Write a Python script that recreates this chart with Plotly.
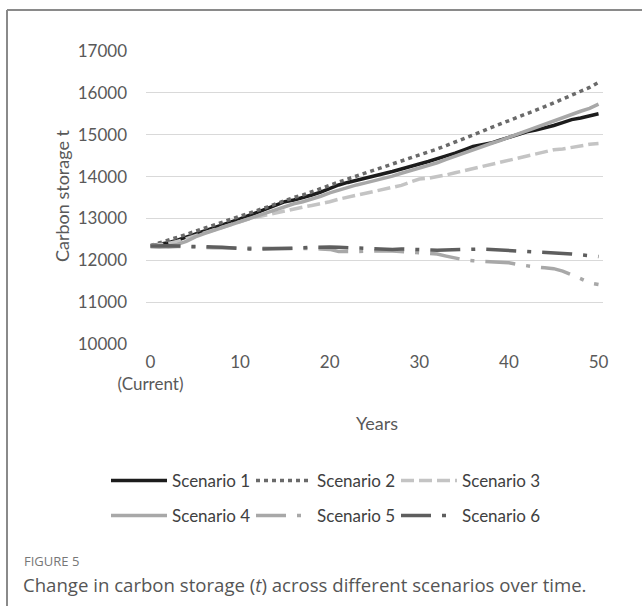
import plotly.graph_objects as go

years = list(range(0, 51))
tick_vals = [0, 10, 20, 30, 40, 50]
tick_text = ["0<br>(Current)", "10", "20", "30", "40", "50"]

s1 = [12350, 12380, 12420, 12480, 12550, 12620, 12690, 12760, 12830, 12910,
      12990, 13070, 13150, 13240, 13330, 13400, 13440, 13490, 13560, 13630,
      13720, 13800, 13860, 13910, 13950, 14000, 14060, 14120, 14180, 14230,
      14300, 14360, 14420, 14490, 14560, 14640, 14720, 14760, 14800, 14870,
      14940, 15010, 15070, 15110, 15160, 15220, 15290, 15360, 15400, 15440, 15500]
s2 = [12350, 12410, 12480, 12550, 12620, 12690, 12760, 12830, 12900, 12970,
      13050, 13120, 13190, 13270, 13350, 13430, 13500, 13560, 13630, 13710,
      13790, 13870, 13940, 14010, 14080, 14150, 14220, 14290, 14360, 14430,
      14500, 14580, 14660, 14740, 14820, 14900, 14990, 15080, 15170, 15250,
      15330, 15420, 15510, 15590, 15670, 15760, 15850, 15940, 16030, 16130, 16250]
s3 = [12350, 12370, 12400, 12450, 12520, 12590, 12660, 12730, 12800, 12870,
      12930, 12990, 13040, 13090, 13140, 13190, 13230, 13270, 13310, 13350,
      13400, 13460, 13510, 13560, 13610, 13660, 13700, 13740, 13790, 13870,
      13940, 13960, 13990, 14040, 14090, 14140, 14190, 14240, 14290, 14340,
      14390, 14440, 14500, 14560, 14610, 14640, 14660, 14700, 14740, 14770, 14790]
s4 = [12330, 12320, 12340, 12380, 12450, 12560, 12640, 12710, 12780, 12850,
      12920, 12990, 13060, 13130, 13210, 13290, 13350, 13400, 13460, 13530,
      13610, 13680, 13740, 13800, 13850, 13900, 13950, 14010, 14080, 14140,
      14200, 14260, 14330, 14410, 14490, 14570, 14650, 14720, 14790, 14860,
      14940, 15020, 15100, 15180, 15260, 15340, 15410, 15480, 15560, 15630, 15730]
s5 = [12330, 12320, 12320, 12330, 12330, 12320, 12310, 12300, 12300, 12290,
      12290, 12280, 12280, 12290, 12290, 12300, 12300, 12290, 12280, 12270,
      12260, 12210, 12200, 12210, 12220, 12230, 12230, 12220, 12210, 12190,
      12180, 12170, 12150, 12100, 12050, 12010, 11990, 11980, 11970, 11960,
      11940, 11900, 11860, 11840, 11820, 11800, 11740, 11660, 11560, 11460, 11420]
s6 = [12340, 12350, 12350, 12340, 12340, 12340, 12330, 12320, 12310, 12290,
      12280, 12270, 12270, 12270, 12280, 12280, 12290, 12300, 12310, 12310,
      12320, 12310, 12300, 12290, 12280, 12270, 12260, 12260, 12270, 12270,
      12270, 12250, 12240, 12250, 12260, 12270, 12270, 12270, 12260, 12240,
      12230, 12220, 12210, 12200, 12190, 12180, 12170, 12150, 12130, 12110, 12090]

names = ["Scenario 1", "Scenario 2", "Scenario 3", "Scenario 4", "Scenario 5", "Scenario 6"]
series = [s1, s2, s3, s4, s5, s6]
colors = ["#1c1c1c", "#6a6a6a", "#c4c4c4", "#a8a8a8", "#a8a8a8", "#5e5e5e"]
dashes = ["solid", "4px,4px", "13px,5px", "solid", "30px,11px,4px,11px", "30px,11px,4px,11px"]
legends = ["legend", "legend", "legend", "legend2", "legend2", "legend2"]

fig = go.Figure()
for n, s, c, d, lg in zip(names, series, colors, dashes, legends):
    fig.add_trace(go.Scatter(x=years, y=s, mode="lines", name=n,
                             line=dict(color=c, width=3.5, dash=d), legend=lg))

W, H = 642, 606
L, R, T, B = 146, 39, 51, 262
pw, ph = W - L - R, H - T - B

def px(x):
    return (x - L) / pw

def py(y):
    return (H - B - y) / ph

tickfont = dict(family="Lato, Open Sans, sans-serif", size=17, color="#595959")
legfont = dict(family="Lato, Open Sans, sans-serif", size=17, color="#404040")

fig.update_layout(
    width=W, height=H,
    margin=dict(l=L, r=R, t=T, b=B),
    paper_bgcolor="white", plot_bgcolor="white",
    xaxis=dict(range=[-0.5, 50.5], tickvals=tick_vals, ticktext=tick_text,
               showgrid=False, zeroline=False, showline=False, ticks="",
               tickfont=tickfont, ticklabelstandoff=6),
    yaxis=dict(range=[10000, 17000], dtick=1000, tickformat="d", showgrid=True,
               gridcolor="#d9d9d9", gridwidth=1.2, zeroline=False, showline=False,
               ticks="", tickfont=tickfont, ticklabelstandoff=18),
    legend=dict(orientation="h", xref="container", yref="container",
                x=106 / W, y=1 - 463 / H, xanchor="left", yanchor="top",
                itemwidth=56, entrywidth=74, entrywidthmode="pixels",
                font=legfont, bgcolor="rgba(0,0,0,0)"),
    legend2=dict(orientation="h", xref="container", yref="container",
                 x=106 / W, y=1 - 498 / H, xanchor="left", yanchor="top",
                 itemwidth=56, entrywidth=74, entrywidthmode="pixels",
                 font=legfont, bgcolor="rgba(0,0,0,0)"),
    showlegend=True,
)

annotations = [
    dict(text="Years", x=px(377), y=py(423), xref="paper", yref="paper",
         showarrow=False, font=dict(family="Lato, Open Sans, sans-serif", size=18, color="#595959"),
         xanchor="center", yanchor="middle"),
    dict(text="Carbon storage t", x=px(62), y=py(196), xref="paper", yref="paper",
         showarrow=False, textangle=-90,
         font=dict(family="Lato, Open Sans, sans-serif", size=18, color="#595959"),
         xanchor="center", yanchor="middle"),
    dict(text="FIGURE 5", x=px(22), y=py(561), xref="paper", yref="paper",
         showarrow=False, font=dict(family="Open Sans, sans-serif", size=13, color="#777777"),
         xanchor="left", yanchor="middle"),
    dict(text="Change in carbon storage (<i>t</i>) across different scenarios over time.",
         x=px(21), y=py(584), xref="paper", yref="paper",
         showarrow=False, font=dict(family="Open Sans, sans-serif", size=18.6, color="#555555"),
         xanchor="left", yanchor="middle"),
]
fig.update_layout(annotations=annotations)

fig.add_shape(type="line", xref="paper", yref="paper", x0=px(7), x1=px(7), y0=py(10), y1=py(620),
              line=dict(color="#8a8a8a", width=2))
fig.add_shape(type="line", xref="paper", yref="paper", x0=px(7), x1=px(650), y0=py(10), y1=py(10),
              line=dict(color="#8a8a8a", width=2))

fig.write_html("out.html")
